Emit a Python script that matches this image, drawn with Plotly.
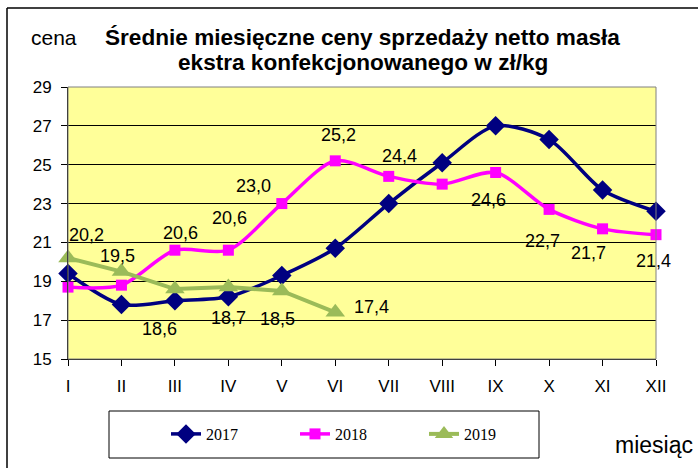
import plotly.graph_objects as go

months = ["I", "II", "III", "IV", "V", "VI", "VII", "VIII", "IX", "X", "XI", "XII"]
price_2017 = [19.4, 17.8, 18.0, 18.2, 19.3, 20.7, 23.0, 25.1, 27.0, 26.3, 23.7, 22.6]
price_2018 = [18.7, 18.8, 20.6, 20.6, 23.0, 25.2, 24.4, 24.0, 24.6, 22.7, 21.7, 21.4]
price_2019 = [20.2, 19.5, 18.6, 18.7, 18.5, 17.4]
y_ticks = [15, 17, 19, 21, 23, 25, 27, 29]

# months (index) that get a value label, and the label offset in px (dx, dy down)
label_off_2018 = {2: (6, -17), 3: (1, -32), 4: (-28, -18), 5: (3, -26), 6: (11, -20),
                  8: (-7, 28), 9: (-7, 32), 10: (-14, 24), 11: (-3, 26)}
label_off_2019 = {0: (18, -23), 1: (-4, -16), 2: (-15, 40), 3: (0, 31), 4: (-4, 28), 5: (36, -5)}

fig = go.Figure()
fig.add_trace(go.Scatter(x=months, y=price_2017, name="2017", mode="lines+markers",
                         line=dict(color="#000080", width=3.5, shape="spline", smoothing=0.8),
                         marker=dict(symbol="diamond", size=15, color="#000080"),
                         cliponaxis=False))
fig.add_trace(go.Scatter(x=months, y=price_2018, name="2018", mode="lines+markers",
                         line=dict(color="#FF00FF", width=3.5, shape="spline", smoothing=0.8),
                         marker=dict(symbol="square", size=11, color="#FF00FF"),
                         cliponaxis=False))
fig.add_trace(go.Scatter(x=months[:len(price_2019)], y=price_2019, name="2019", mode="lines+markers",
                         line=dict(color="#9BBB59", width=4),
                         marker=dict(symbol="triangle-up", size=17, color="#9BBB59"),
                         cliponaxis=False))

def fmt(v):
    return f"{v:.1f}".replace(".", ",")

annos = []
for i, (dx, dy) in label_off_2018.items():
    annos.append(dict(x=months[i], y=price_2018[i], text=fmt(price_2018[i]), showarrow=False,
                      xshift=dx, yshift=-dy, font=dict(family="Arial", size=18, color="black")))
for i, (dx, dy) in label_off_2019.items():
    annos.append(dict(x=months[i], y=price_2019[i], text=fmt(price_2019[i]), showarrow=False,
                      xshift=dx, yshift=-dy, font=dict(family="Arial", size=18, color="black")))

L, R, T, B = 68, 42, 87, 109
W, H = 698, 468
pw, ph = W - L - R, H - T - B

def px(x):
    return (x - L) / pw

def py(y):
    return (H - B - y) / ph

annos.append(dict(xref="paper", yref="paper", x=px(362), xanchor="center", y=py(37), yanchor="middle",
                  text="<b>Średnie miesięczne ceny sprzedaży netto masła</b>",
                  showarrow=False, font=dict(family="Arial", size=22.6, color="black")))
annos.append(dict(xref="paper", yref="paper", x=px(363), xanchor="center", y=py(62), yanchor="middle",
                  text="<b>ekstra konfekcjonowanego w zł/kg</b>",
                  showarrow=False, font=dict(family="Arial", size=22.6, color="black")))
annos.append(dict(xref="paper", yref="paper", x=px(54), xanchor="center", y=py(37), yanchor="middle",
                  text="cena", showarrow=False, font=dict(family="Arial", size=21, color="black")))
annos.append(dict(xref="paper", yref="paper", x=px(654), xanchor="center", y=py(445), yanchor="middle",
                  text="miesiąc", showarrow=False, font=dict(family="Arial", size=23, color="black")))

shapes = [
    dict(type="rect", xref="paper", yref="paper", x0=0, x1=1, y0=0, y1=1,
         line=dict(color="#808080", width=1), fillcolor="rgba(0,0,0,0)", layer="above"),
    dict(type="rect", xref="paper", yref="paper", x0=px(109), x1=px(539), y0=py(458), y1=py(411),
         line=dict(color="black", width=1), fillcolor="rgba(0,0,0,0)"),
    dict(type="line", xref="paper", yref="paper", x0=px(7), x1=px(7), y0=py(470), y1=py(8),
         line=dict(color="black", width=1.5)),
    dict(type="line", xref="paper", yref="paper", x0=px(7), x1=px(700), y0=py(8), y1=py(8),
         line=dict(color="black", width=1.5)),
]

fig.update_layout(
    width=W, height=H,
    margin=dict(l=L, r=R, t=T, b=B),
    paper_bgcolor="white", plot_bgcolor="#FFFF99",
    showlegend=True,
    legend=dict(orientation="h", x=px(166), xanchor="left", y=py(434), yanchor="middle",
                font=dict(family="Liberation Serif", size=16, color="black"),
                entrywidth=84, entrywidthmode="pixels", bgcolor="rgba(0,0,0,0)", borderwidth=0),
    annotations=annos, shapes=shapes,
)
fig.update_xaxes(type="category", categoryorder="array", categoryarray=months,
                 range=[0, len(months) - 1], showgrid=False, ticks="outside", ticklen=6,
                 tickcolor="black", showline=True, linecolor="black", linewidth=1,
                 tickfont=dict(family="Arial", size=17, color="black"), ticklabelstandoff=6)
fig.update_yaxes(range=[15, 29], tickvals=y_ticks, showgrid=True, gridcolor="black", gridwidth=1,
                 ticks="outside", ticklen=6, tickcolor="black", showline=True, linecolor="black",
                 linewidth=1, zeroline=False,
                 tickfont=dict(family="Arial", size=17, color="black"), ticklabelstandoff=6)

fig.write_html("out.html", config={"displayModeBar": False},
               post_script="document.body.style.margin='0';")
